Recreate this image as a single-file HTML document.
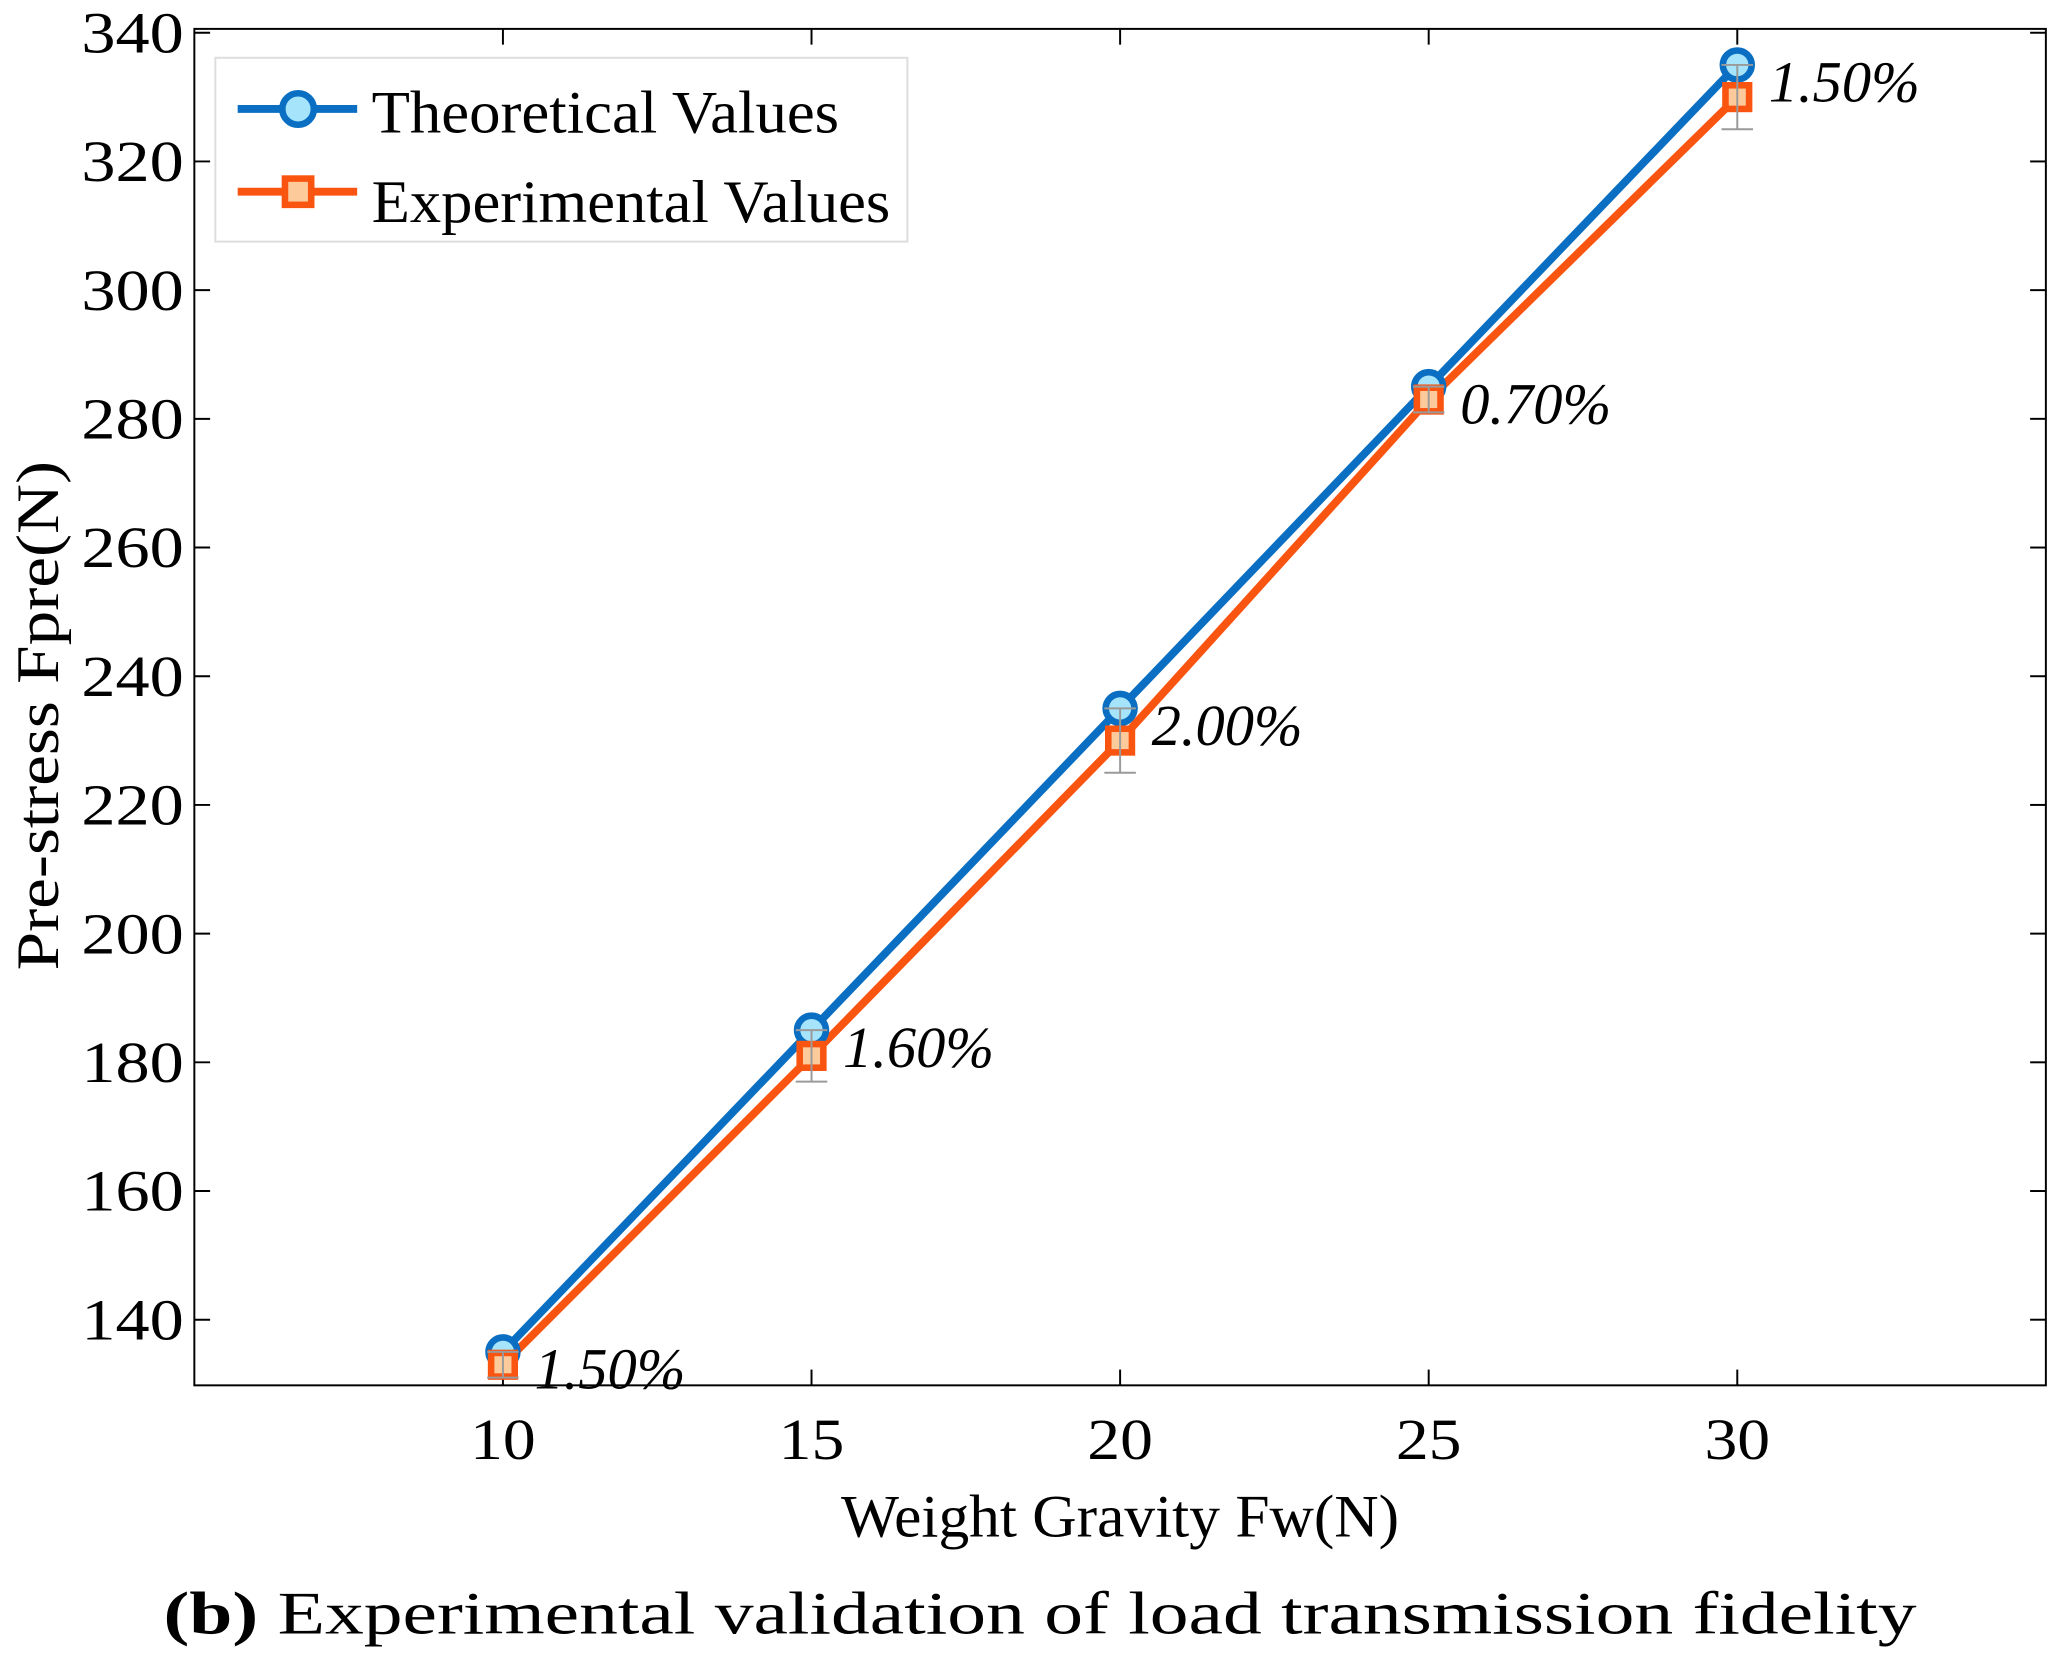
<!DOCTYPE html>
<html><head><meta charset="utf-8"><style>
html,body{margin:0;padding:0;background:#fff;}
svg{display:block;}
text{font-family:"Liberation Serif",serif;}
</style></head><body>
<svg id="chart" width="2059" height="1659" viewBox="0 0 1568 1263.4" preserveAspectRatio="none" xmlns="http://www.w3.org/2000/svg">
<g id="plot"></g>
<text x="853" y="1170" font-size="46" text-anchor="middle" textLength="425" lengthAdjust="spacingAndGlyphs">Weight Gravity Fw(N)</text>
<text transform="translate(44,545) rotate(-90)" font-size="46" text-anchor="middle" textLength="388" lengthAdjust="spacingAndGlyphs">Pre-stress Fpre(N)</text>
<text x="792" y="1244" font-size="46" text-anchor="middle" textLength="1335" lengthAdjust="spacingAndGlyphs"><tspan font-weight="bold">(b)</tspan> Experimental validation of load transmission fidelity</text>
<g>
<rect x="164" y="44" width="527" height="140" fill="#fff" stroke="#ddd" stroke-width="1.5"/>
<g>
<line x1="181" y1="83" x2="272" y2="83" stroke="#0a6fc2" stroke-width="6"/>
<circle cx="227" cy="83" r="12" fill="#a6e4fb" stroke="#0a6fc2" stroke-width="5"/>
<text x="283" y="101" font-size="46" textLength="356" lengthAdjust="spacingAndGlyphs">Theoretical Values</text>
</g>
<g>
<line x1="181" y1="146" x2="272" y2="146" stroke="#fa5411" stroke-width="6"/>
<rect x="217" y="136" width="20" height="20" fill="#fdcb9b" stroke="#fa5411" stroke-width="5"/>
<text x="283" y="169" font-size="46" textLength="395" lengthAdjust="spacingAndGlyphs">Experimental Values</text>
</g>
</g>
</svg>
<script>
const categories=[10,15,20,25,30];
const theoretical=[135,185,235,285,335];
const experimental=[133,181,230,283,330];
const errors=[2,4,5,2,5];
const percentLabels=["1.50%","1.60%","2.00%","0.70%","1.50%"];
const xTicks=[10,15,20,25,30];
const yTicks=[140,160,180,200,220,240,260,280,300,320,340];

const L=148,R=1558,T=22,B=1055;
const xMin=5,xMax=35,yMin=129.8,yMax=340.6;
const xs=v=>L+(v-xMin)/(xMax-xMin)*(R-L);
const ys=v=>B-(v-yMin)/(yMax-yMin)*(B-T);
const NS="http://www.w3.org/2000/svg";
const g=document.getElementById('plot');
function mk(tag,attrs,parent){const e=document.createElementNS(NS,tag);for(const k in attrs)e.setAttribute(k,attrs[k]);(parent||g).appendChild(e);return e;}

const frame=mk('rect',{x:L,y:T,width:R-L,height:B-T,fill:'none',stroke:'#000','stroke-width':1.5});


yTicks.forEach(t=>{
  const y=ys(t);
  const a=mk('line',{x1:L,y1:y,x2:L+12,y2:y,stroke:'#000','stroke-width':1.5});
  
  
  const b=mk('line',{x1:R,y1:y,x2:R-12,y2:y,stroke:'#000','stroke-width':1.5});
  
  
  const tx=mk('text',{x:L-8,y:y+15,'font-size':44,'text-anchor':'end',textLength:78,lengthAdjust:'spacingAndGlyphs'});
  tx.textContent=t;
  
  
});
xTicks.forEach(t=>{
  const x=xs(t);
  const a=mk('line',{x1:x,y1:B,x2:x,y2:B-12,stroke:'#000','stroke-width':1.5});
  
  
  const b=mk('line',{x1:x,y1:T,x2:x,y2:T+12,stroke:'#000','stroke-width':1.5});
  
  
  const tx=mk('text',{x:x,y:B+56,'font-size':44,'text-anchor':'middle',textLength:50,lengthAdjust:'spacingAndGlyphs'});
  tx.textContent=t;
  
  
});
const pT=categories.map((c,i)=>xs(c)+','+ys(theoretical[i])).join(' ');
const pE=categories.map((c,i)=>xs(c)+','+ys(experimental[i])).join(' ');
const lT=mk('polyline',{points:pT,fill:'none',stroke:'#0a6fc2','stroke-width':6});


const lE=mk('polyline',{points:pE,fill:'none',stroke:'#fa5411','stroke-width':6});


categories.forEach((c,i)=>{
  const x=xs(c);
  const m=mk('circle',{cx:x,cy:ys(theoretical[i]),r:11,fill:'#a6e4fb',stroke:'#0a6fc2','stroke-width':5});
  
  
  const ye=ys(experimental[i]);
  const s=mk('rect',{x:x-9,y:ye-9,width:18,height:18,fill:'#fdcb9b',stroke:'#fa5411','stroke-width':5});
  
  
  const y1=ys(experimental[i]+errors[i]),y2=ys(experimental[i]-errors[i]);
  const eg=mk('g',{stroke:'#9a9a9a','stroke-width':1.5});
  
  
  mk('line',{x1:x,y1:y1,x2:x,y2:y2},eg);
  mk('line',{x1:x-12,y1:y1,x2:x+12,y2:y1},eg);
  mk('line',{x1:x-12,y1:y2,x2:x+12,y2:y2},eg);
  const lab=mk('text',{x:x+24,y:ys(theoretical[i])+28,'font-size':44,'font-style':'italic',textLength:115,lengthAdjust:'spacingAndGlyphs'});
  lab.textContent=percentLabels[i];
  
  
});
</script>
</body></html>
